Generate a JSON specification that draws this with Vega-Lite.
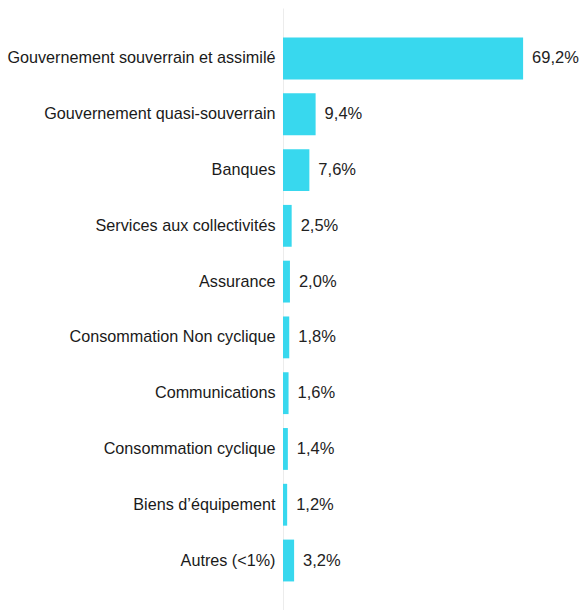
{
  "$schema": "https://vega.github.io/schema/vega-lite/v6.json",
  "autosize": {"type": "none"},
  "padding": {"left": 283, "top": 8, "right": 0, "bottom": 0},
  "width": 297,
  "height": 603,
  "background": "white",
  "config": {"view": {"stroke": null}, "font": "Liberation Sans"},
  "data": {
    "values": [
      {"secteur": "Gouvernement souverrain et assimilé", "valeur": 69.2, "etiquette": "69,2%"},
      {"secteur": "Gouvernement quasi-souverrain", "valeur": 9.4, "etiquette": "9,4%"},
      {"secteur": "Banques", "valeur": 7.6, "etiquette": "7,6%"},
      {"secteur": "Services aux collectivités", "valeur": 2.5, "etiquette": "2,5%"},
      {"secteur": "Assurance", "valeur": 2.0, "etiquette": "2,0%"},
      {"secteur": "Consommation Non cyclique", "valeur": 1.8, "etiquette": "1,8%"},
      {"secteur": "Communications", "valeur": 1.6, "etiquette": "1,6%"},
      {"secteur": "Consommation cyclique", "valeur": 1.4, "etiquette": "1,4%"},
      {"secteur": "Biens d’équipement", "valeur": 1.2, "etiquette": "1,2%"},
      {"secteur": "Autres (<1%)", "valeur": 3.2, "etiquette": "3,2%"}
    ]
  },
  "encoding": {
    "y": {
      "field": "secteur",
      "type": "nominal",
      "sort": null,
      "scale": {"paddingInner": 0.25, "paddingOuter": 0.53},
      "axis": {
        "title": null,
        "ticks": false,
        "domainColor": "#ececec",
        "domainWidth": 1,
        "labelFontSize": 16.2,
        "labelColor": "#1a1a1a",
        "labelPadding": 8,
        "labelLimit": 400
      }
    },
    "x": {
      "field": "valeur",
      "type": "quantitative",
      "scale": {"domain": [0, 85.6], "nice": false},
      "axis": null
    }
  },
  "layer": [
    {"mark": {"type": "bar", "color": "#38d8ee"}},
    {
      "mark": {"type": "text", "align": "left", "baseline": "middle", "dx": 9, "fontSize": 16.5, "color": "#222222"},
      "encoding": {"text": {"field": "etiquette"}}
    }
  ]
}
